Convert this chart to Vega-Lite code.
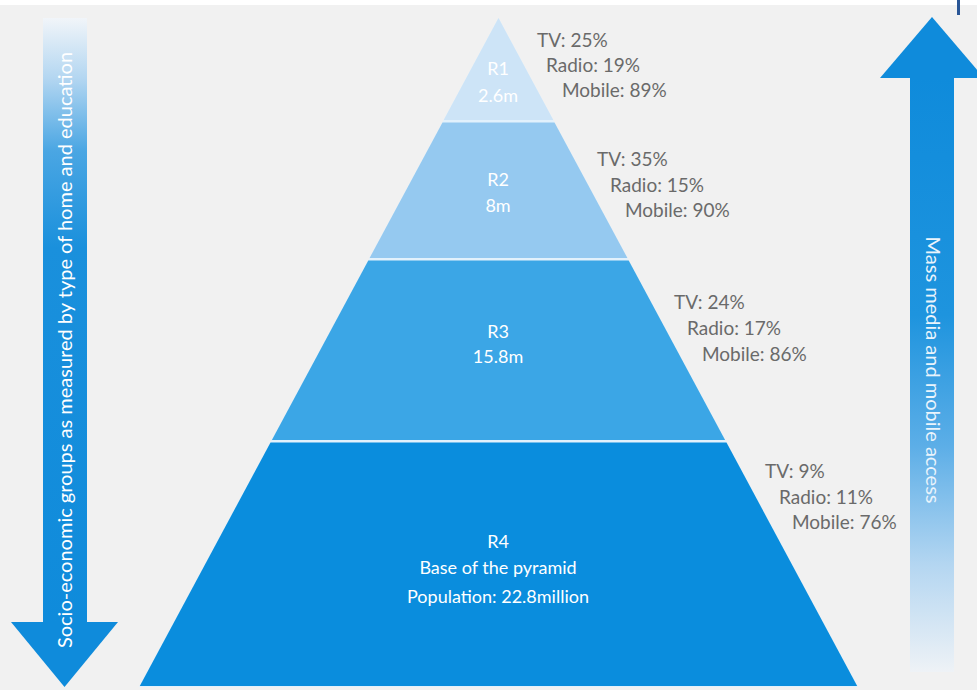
{
  "$schema": "https://vega.github.io/schema/vega-lite/v6.json",
  "width": 977,
  "height": 690,
  "padding": 0,
  "autosize": {"type": "fit", "contains": "padding"},
  "background": "#f1f1f1",
  "config": {"view": {"stroke": null}},
  "datasets": {
    "bands": [
      {"part": "strip", "x": 0, "x2": 977, "y": 0, "y2": 5, "fill": "#ffffff"},
      {"part": "tick", "x": 957, "x2": 960, "y": 0, "y2": 15, "fill": "#2a5696"}
    ],
    "underlay": [
      {"y": 18, "xl": 498.5, "xr": 498.5},
      {"y": 687, "xl": 139, "xr": 858}
    ],
    "tiers": [
      {"tier": "R1", "y": 18, "xl": 498.5, "xr": 498.5, "fill": "#cde4f7"},
      {"tier": "R1", "y": 120, "xl": 443.7, "xr": 553.3, "fill": "#cde4f7"},
      {"tier": "R2", "y": 122.5, "xl": 442.5, "xr": 554.5, "fill": "#95c9f0"},
      {"tier": "R2", "y": 258, "xl": 369.6, "xr": 627.4, "fill": "#95c9f0"},
      {"tier": "R3", "y": 260.5, "xl": 368.3, "xr": 628.7, "fill": "#3ba6e6"},
      {"tier": "R3", "y": 440, "xl": 271.9, "xr": 725.1, "fill": "#3ba6e6"},
      {"tier": "R4", "y": 442.5, "xl": 270.5, "xr": 726.5, "fill": "#0a8ddd"},
      {"tier": "R4", "y": 686, "xl": 139.8, "xr": 857.2, "fill": "#0a8ddd"},
      {"tier": "down", "y": 622, "xl": 11, "xr": 118, "fill": "#0f8bdb"},
      {"tier": "down", "y": 687, "xl": 64.5, "xr": 64.5, "fill": "#0f8bdb"},
      {"tier": "up", "y": 17, "xl": 932, "xr": 932, "fill": "#0f8bdb"},
      {"tier": "up", "y": 78, "xl": 880, "xr": 984, "fill": "#0f8bdb"}
    ],
    "leftShaft": [{"x": 43, "x2": 87, "y": 18, "y2": 623}],
    "rightShaft": [{"x": 910, "x2": 954, "y": 77, "y2": 672}],
    "inner": [
      {"x": 498, "y": 70, "label": "R1"},
      {"x": 498, "y": 97, "label": "2.6m"},
      {"x": 498, "y": 181, "label": "R2"},
      {"x": 498, "y": 207, "label": "8m"},
      {"x": 498, "y": 333, "label": "R3"},
      {"x": 498, "y": 358, "label": "15.8m"},
      {"x": 498, "y": 543, "label": "R4"},
      {"x": 498, "y": 569, "label": "Base of the pyramid"},
      {"x": 498, "y": 598, "label": "Population: 22.8million"}
    ],
    "notes": [
      {"x": 537, "y": 41, "label": "TV: 25%"},
      {"x": 546, "y": 66, "label": "Radio: 19%"},
      {"x": 562, "y": 91, "label": "Mobile: 89%"},
      {"x": 597, "y": 160, "label": "TV: 35%"},
      {"x": 610, "y": 186, "label": "Radio: 15%"},
      {"x": 625, "y": 211, "label": "Mobile: 90%"},
      {"x": 674, "y": 303, "label": "TV: 24%"},
      {"x": 687, "y": 329, "label": "Radio: 17%"},
      {"x": 702, "y": 355, "label": "Mobile: 86%"},
      {"x": 765, "y": 472, "label": "TV: 9%"},
      {"x": 779, "y": 498, "label": "Radio: 11%"},
      {"x": 792, "y": 523, "label": "Mobile: 76%"}
    ],
    "leftText": [{"x": 66, "y": 350, "label": "Socio-economic groups as measured by type of home and education"}],
    "rightText": [{"x": 932, "y": 370, "label": "Mass media and mobile access"}]
  },
  "layer": [
    {
      "data": {"name": "bands"},
      "mark": {"type": "rect"},
      "encoding": {
        "x": {"field": "x", "type": "quantitative", "scale": {"domain": [0, 977], "nice": false, "zero": false}, "axis": null},
        "x2": {"field": "x2"},
        "y": {"field": "y", "type": "quantitative", "scale": {"domain": [0, 690], "nice": false, "zero": false, "reverse": true}, "axis": null},
        "y2": {"field": "y2"},
        "color": {"field": "fill", "type": "nominal", "scale": null, "legend": null}
      }
    },
    {
      "data": {"name": "leftShaft"},
      "mark": {"type": "rect", "fill": {"gradient": "linear", "x1": 0, "y1": 0, "x2": 0, "y2": 1, "stops": [
        {"offset": 0, "color": "#f1f5f9"},
        {"offset": 0.1, "color": "#b3d6f1"},
        {"offset": 0.22, "color": "#4aa6e3"},
        {"offset": 0.38, "color": "#1a90dc"},
        {"offset": 1, "color": "#0f8bdb"}
      ]}},
      "encoding": {
        "x": {"field": "x", "type": "quantitative", "axis": null},
        "x2": {"field": "x2"},
        "y": {"field": "y", "type": "quantitative", "axis": null},
        "y2": {"field": "y2"}
      }
    },
    {
      "data": {"name": "rightShaft"},
      "mark": {"type": "rect", "fill": {"gradient": "linear", "x1": 0, "y1": 0, "x2": 0, "y2": 1, "stops": [
        {"offset": 0, "color": "#0f8bdb"},
        {"offset": 0.4, "color": "#1e94de"},
        {"offset": 0.62, "color": "#5caee7"},
        {"offset": 0.82, "color": "#b4d6f1"},
        {"offset": 1, "color": "#eef2f6"}
      ]}},
      "encoding": {
        "x": {"field": "x", "type": "quantitative", "axis": null},
        "x2": {"field": "x2"},
        "y": {"field": "y", "type": "quantitative", "axis": null},
        "y2": {"field": "y2"}
      }
    },
    {
      "data": {"name": "underlay"},
      "mark": {"type": "area", "orient": "horizontal", "color": "#e2f1fc"},
      "encoding": {
        "y": {"field": "y", "type": "quantitative", "axis": null},
        "x": {"field": "xl", "type": "quantitative", "axis": null, "stack": null},
        "x2": {"field": "xr"}
      }
    },
    {
      "data": {"name": "tiers"},
      "mark": {"type": "area", "orient": "horizontal", "clip": true},
      "encoding": {
        "y": {"field": "y", "type": "quantitative", "axis": null},
        "x": {"field": "xl", "type": "quantitative", "axis": null, "stack": null},
        "x2": {"field": "xr"},
        "detail": {"field": "tier", "type": "nominal"},
        "color": {"field": "fill", "type": "nominal", "scale": null, "legend": null}
      }
    },
    {
      "data": {"name": "inner"},
      "mark": {"type": "text", "align": "center", "baseline": "middle", "font": "Lato", "fontSize": 18, "color": "#ffffff"},
      "encoding": {
        "x": {"field": "x", "type": "quantitative", "axis": null},
        "y": {"field": "y", "type": "quantitative", "axis": null},
        "text": {"field": "label", "type": "nominal"}
      }
    },
    {
      "data": {"name": "notes"},
      "mark": {"type": "text", "align": "left", "baseline": "middle", "font": "Lato", "fontSize": 19, "color": "#6a6a6a"},
      "encoding": {
        "x": {"field": "x", "type": "quantitative", "axis": null},
        "y": {"field": "y", "type": "quantitative", "axis": null},
        "text": {"field": "label", "type": "nominal"}
      }
    },
    {
      "data": {"name": "leftText"},
      "mark": {"type": "text", "align": "center", "baseline": "middle", "angle": 270, "font": "Lato", "fontSize": 20, "color": "#ffffff"},
      "encoding": {
        "x": {"field": "x", "type": "quantitative", "axis": null},
        "y": {"field": "y", "type": "quantitative", "axis": null},
        "text": {"field": "label", "type": "nominal"}
      }
    },
    {
      "data": {"name": "rightText"},
      "mark": {"type": "text", "align": "center", "baseline": "middle", "angle": 90, "font": "Lato", "fontSize": 20, "color": "#eaf4fc"},
      "encoding": {
        "x": {"field": "x", "type": "quantitative", "axis": null},
        "y": {"field": "y", "type": "quantitative", "axis": null},
        "text": {"field": "label", "type": "nominal"}
      }
    }
  ]
}
